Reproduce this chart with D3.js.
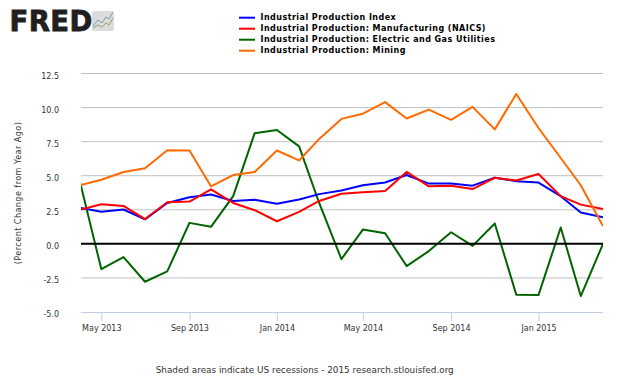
<!DOCTYPE html>
<html>
<head>
<meta charset="utf-8">
<script src="https://cdn.jsdelivr.net/npm/d3@7"></script>
<style>
	html, body {margin: 0; padding: 0; background: #fff;}
	svg {display: block;}
	text {font-family: "DejaVu Sans", sans-serif; fill: #333;}
</style>
</head>
<body>
<svg id="chart" width="630" height="378"></svg>
<script>
const months = ["2013-04","2013-05","2013-06","2013-07","2013-08","2013-09","2013-10","2013-11","2013-12",
	"2014-01","2014-02","2014-03","2014-04","2014-05","2014-06","2014-07","2014-08","2014-09","2014-10","2014-11","2014-12",
	"2015-01","2015-02","2015-03","2015-04"];
const indexValues = [2.65,2.36,2.52,1.8,3.0,3.42,3.62,3.15,3.24,2.95,3.25,3.65,3.92,4.3,4.5,5.05,4.42,4.42,4.27,4.85,4.6,4.5,3.5,2.3,1.95];
const manufacturingValues = [2.5,2.9,2.78,1.82,3.05,3.1,4.0,3.0,2.47,1.66,2.35,3.15,3.68,3.78,3.88,5.28,4.22,4.27,4.02,4.85,4.65,5.12,3.5,2.88,2.55];
const utilitiesValues = [4.6,-1.85,-0.97,-2.78,-2.02,1.54,1.25,3.5,8.12,8.35,7.15,3.0,-1.12,1.05,0.78,-1.63,-0.53,0.85,-0.15,1.49,-3.73,-3.76,1.2,-3.83,0];
const miningValues = [4.3,4.7,5.27,5.55,6.87,6.85,4.22,5.05,5.27,6.85,6.12,7.7,9.17,9.55,10.4,9.2,9.85,9.1,10.05,8.4,11.0,8.5,6.3,4.3,1.3];
const yTicks = [-5,-2.5,0,2.5,5,7.5,10,12.5];
const xTicks = ["2013-05","2013-09","2014-01","2014-05","2014-09","2015-01"];
const seriesNames = ["Industrial Production Index","Industrial Production: Manufacturing (NAICS)","Industrial Production: Electric and Gas Utilities","Industrial Production: Mining"];
const seriesColors = ["#0000ff","#ff0000","#006400","#ff6a00"];
const seriesValues = [indexValues, manufacturingValues, utilitiesValues, miningValues];
// green goes underneath, then blue, red and orange on top
const drawOrder = [2, 0, 1, 3];

const margin = {top: 73.5, right: 27, bottom: 66, left: 81};
const width = 630 - margin.left - margin.right;
const height = 378 - margin.top - margin.bottom;
const parseMonth = d3.utcParse("%Y-%m");
const dates = months.map(parseMonth);

const svg = d3.select("#chart");
const g = svg.append("g").attr("transform", "translate(" + margin.left + "," + margin.top + ")");

// first point falls just left of the plot edge, so it gets clipped
const x = d3.scaleUtc().domain([dates[0], dates[dates.length - 1]]).range([-1.2, width]);
const y = d3.scaleLinear().domain([-5, 12.5]).range([height, 0]);

svg.append("defs").append("clipPath").attr("id", "plot-clip").append("rect").
	attr("x", 0).attr("y", -2).attr("width", width).attr("height", height + 4);

// horizontal grid
g.selectAll("line.grid").
	data(yTicks.filter(d => d !== -5 && d !== 0)).
	enter().append("line").
	attr("class", "grid").
	attr("x1", 0).attr("x2", width).
	attr("y1", d => y(d)).attr("y2", d => y(d)).
	attr("stroke", "#c0c0c0").
	attr("stroke-width", 1);

// y labels, they sit a little under their gridline
const yAxis = d3.axisLeft(y).tickValues(yTicks).tickSize(0).tickPadding(22).
	tickFormat(d => d3.format(".1f")(d).replace("\u2212", "-"));
const yG = g.append("g").call(yAxis);
yG.select(".domain").remove();
yG.selectAll("text").attr("font-size", 8).attr("dy", "0.62em").style("fill", "#333");

// x axis
const xAxis = d3.axisBottom(x).tickValues(xTicks.map(parseMonth)).tickSize(9).tickPadding(4).
	tickFormat(d3.utcFormat("%b %Y"));
const xG = g.append("g").attr("transform", "translate(0," + height + ")").call(xAxis);
xG.select(".domain").attr("stroke", "#c0d0e0").attr("d", "M0,0.5H" + width);
xG.selectAll("line").attr("stroke", "#c0d0e0");
xG.selectAll("text").attr("font-size", 8).style("fill", "#333");

// series
const line = d3.line().x((d, i) => x(dates[i])).y(d => y(d));
g.append("g").attr("clip-path", "url(#plot-clip)").
	selectAll("path").
	data(drawOrder).
	enter().append("path").
	attr("d", i => line(seriesValues[i])).
	attr("fill", "none").
	attr("stroke", i => seriesColors[i]).
	attr("stroke-width", 2).
	attr("stroke-linejoin", "round");

// zero line, above the series
g.append("line").
	attr("x1", 0).attr("x2", width).
	attr("y1", y(0)).attr("y2", y(0)).
	attr("stroke", "#000").attr("stroke-width", 2);

// legend
const legend = svg.selectAll(".legend").
	data(seriesNames).
	enter().append("g").
	attr("class", "legend").
	attr("transform", (d, i) => "translate(239," + (17.7 + i * 11) + ")");
legend.append("line").
	attr("x1", 0).attr("x2", 16).
	attr("stroke", (d, i) => seriesColors[i]).
	attr("stroke-width", 2);
legend.append("text").
	attr("x", 21.5).attr("y", -1).attr("dy", "0.35em").
	attr("font-size", 8).attr("font-weight", "bold").attr("letter-spacing", 0.46).
	style("fill", "#000").
	text(d => d);

// y title
svg.append("text").
	attr("transform", "translate(21,193) rotate(-90)").
	attr("text-anchor", "middle").
	attr("font-size", 8).attr("letter-spacing", 0.48).
	text("(Percent Change from Year Ago)");

// footer
svg.append("text").
	attr("x", 304.7).attr("y", 373).
	attr("text-anchor", "middle").
	attr("font-size", 8.85).
	text("Shaded areas indicate US recessions - 2015 research.stlouisfed.org");

// logo
const logo = svg.append("g");
logo.append("text").
	attr("x", 9.5).attr("y", 30.5).
	attr("font-family", "Liberation Sans").attr("font-size", 27.5).attr("font-weight", "bold").
	attr("letter-spacing", 0.4).
	attr("stroke", "#231f20").attr("stroke-width", 0.8).
	style("fill", "#231f20").
	text("FRED");
logo.append("rect").
	attr("x", 92).attr("y", 11).attr("width", 22).attr("height", 20).attr("rx", 2).
	attr("fill", "#dcdcdc");
logo.append("path").
	attr("d", "M93,26L98,20L102,23L106,17L109,19L113,12").
	attr("fill", "none").attr("stroke", "#7c9fb5").attr("stroke-width", 1);
logo.append("path").
	attr("d", "M93,28L98,25L102,27L106,23L109,25L113,18").
	attr("fill", "none").attr("stroke", "#8aa86a").attr("stroke-width", 1);
</script>
</body>
</html>
